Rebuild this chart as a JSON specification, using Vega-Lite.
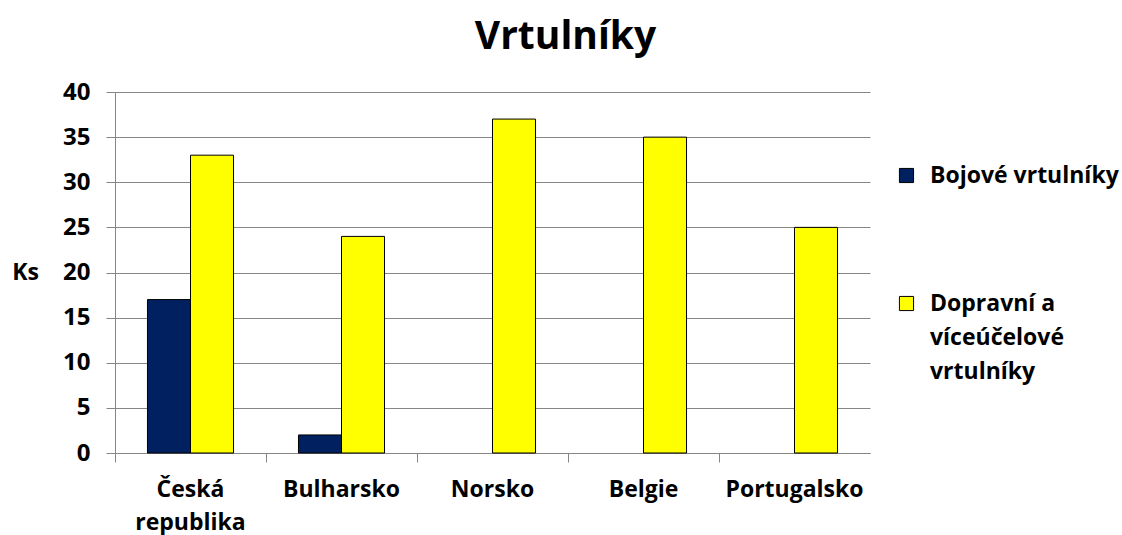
{
  "$schema": "https://vega.github.io/schema/vega-lite/v6.json",
  "width": 755,
  "height": 361,
  "autosize": "none",
  "padding": {"left": 115, "top": 92, "right": 252, "bottom": 82},
  "background": "white",
  "title": {
    "text": "Vrtulníky",
    "font": "Open Sans",
    "fontSize": 39,
    "fontWeight": "bold",
    "color": "#000000",
    "anchor": "middle",
    "dx": 73,
    "offset": 23
  },
  "data": {
    "values": [
      {"zeme": "Česká republika", "typ": "Bojové vrtulníky", "pocet": 17},
      {"zeme": "Česká republika", "typ": "Dopravní a víceúčelové vrtulníky", "pocet": 33},
      {"zeme": "Bulharsko", "typ": "Bojové vrtulníky", "pocet": 2},
      {"zeme": "Bulharsko", "typ": "Dopravní a víceúčelové vrtulníky", "pocet": 24},
      {"zeme": "Norsko", "typ": "Dopravní a víceúčelové vrtulníky", "pocet": 37},
      {"zeme": "Belgie", "typ": "Dopravní a víceúčelové vrtulníky", "pocet": 35},
      {"zeme": "Portugalsko", "typ": "Dopravní a víceúčelové vrtulníky", "pocet": 25}
    ]
  },
  "mark": {"type": "bar", "stroke": "#000000", "strokeWidth": 1},
  "encoding": {
    "x": {
      "field": "zeme",
      "type": "nominal",
      "sort": ["Česká republika", "Bulharsko", "Norsko", "Belgie", "Portugalsko"],
      "scale": {"paddingInner": 0, "paddingOuter": 0},
      "axis": {
        "title": null,
        "labelAngle": 0,
        "labelFont": "Open Sans",
        "labelFontSize": 23,
        "labelFontWeight": "bold",
        "labelColor": "#000000",
        "labelPadding": 16,
        "labelLineHeight": 33,
        "labelBaseline": "top",
        "labelExpr": "datum.label == 'Česká republika' ? ['Česká', 'republika'] : datum.label",
        "domainColor": "#868686",
        "tickColor": "#868686",
        "tickSize": 9,
        "bandPosition": 0,
        "labelBound": false,
        "labelOverlap": false
      }
    },
    "xOffset": {
      "field": "typ",
      "type": "nominal",
      "scale": {"paddingInner": 0, "paddingOuter": 0.755}
    },
    "y": {
      "field": "pocet",
      "type": "quantitative",
      "scale": {"domain": [0, 40]},
      "axis": {
        "values": [0, 5, 10, 15, 20, 25, 30, 35, 40],
        "title": "Ks",
        "titleAngle": 0,
        "titleFont": "Open Sans",
        "titleFontSize": 23,
        "titleFontWeight": "bold",
        "titleColor": "#000000",
        "titleAlign": "center",
        "titleBaseline": "middle",
        "titleX": -90,
        "titleY": 180,
        "labelFont": "Open Sans",
        "labelFontSize": 24,
        "labelFontWeight": "bold",
        "labelColor": "#000000",
        "labelPadding": 16,
        "domainColor": "#868686",
        "tickColor": "#868686",
        "tickSize": 9,
        "gridColor": "#868686",
        "gridWidth": 1
      }
    },
    "fill": {
      "field": "typ",
      "type": "nominal",
      "scale": {
        "domain": ["Bojové vrtulníky", "Dopravní a víceúčelové vrtulníky"],
        "range": ["#002060", "#FFFF00"]
      },
      "legend": {
        "title": null,
        "orient": "none",
        "legendX": 780,
        "legendY": 72,
        "symbolType": "square",
        "symbolSize": 200,
        "symbolStrokeColor": "#000000",
        "symbolStrokeWidth": 1,
        "labelFont": "Open Sans",
        "labelFontSize": 23,
        "labelFontWeight": "bold",
        "labelColor": "#000000",
        "labelLimit": 300,
        "labelOffset": 12,
        "rowPadding": 104,
        "labelExpr": "datum.label == 'Dopravní a víceúčelové vrtulníky' ? ['Dopravní a', 'víceúčelové', 'vrtulníky'] : datum.label",
        "encode": {
          "labels": {"update": {"lineHeight": {"value": 34}}}
        }
      }
    }
  },
  "config": {
    "view": {"stroke": null},
    "axis": {"grid": false},
    "axisY": {"grid": true}
  }
}
